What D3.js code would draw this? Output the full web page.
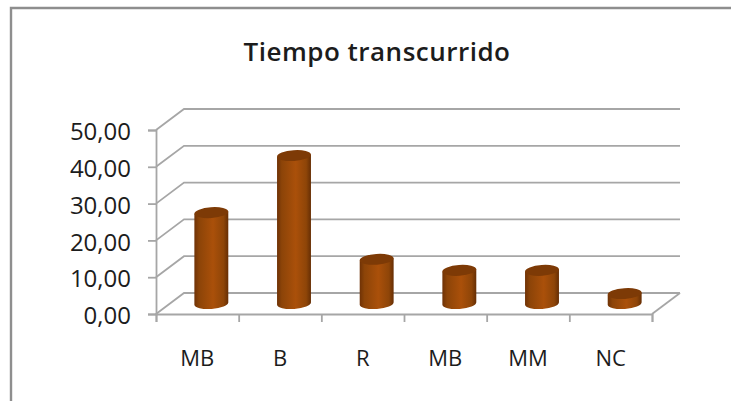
<!DOCTYPE html>
<html>
<head>
<meta charset="utf-8">
<script src="https://cdn.jsdelivr.net/npm/d3@7"></script>
<style>
  body { margin: 0; background: #fff; }
  text { font-family: "Open Sans", "Noto Sans", sans-serif; fill: #1c1c1c; }
</style>
</head>
<body>
<div id="chart"></div>
<script>
const categories = ["MB", "B", "R", "MB", "MM", "NC"];
const values = [24.7, 40.2, 12, 9, 9, 2.7];
const yTicks = [0, 10, 20, 30, 40, 50];
const title = "Tiempo transcurrido";

const w = 731, h = 401;
const depth = { x: 28, y: -21 }; // 3d offset of the back wall
const gridColor = "#a6a6a6";

const svg = d3.select("#chart").append("svg")
  .attr("width", w).attr("height", h)
  .style("display", "block");

// outer frame, only top and left show in the crop
svg.append("path")
  .attr("d", "M11,401V8H731")
  .attr("fill", "none")
  .attr("stroke", "#8e8e8e")
  .attr("stroke-width", 2.4);

svg.append("text")
  .attr("x", 377).attr("y", 61)
  .attr("text-anchor", "middle")
  .attr("font-size", 26)
  .attr("letter-spacing", 0.5)
  .attr("font-weight", 600)
  .text(title);

const y = d3.scaleLinear().domain([0, 50]).range([314, 130]);
const x = d3.scaleBand().domain(d3.range(categories.length)).range([156, 652]);
const xEdge = d3.scaleLinear().domain([0, categories.length]).range([156, 652]);

// walls and floor
const walls = svg.append("g")
  .attr("fill", "none")
  .attr("stroke", gridColor)
  .attr("stroke-width", 1.8);

walls.selectAll(".grid")
  .data(yTicks)
  .enter()
  .append("path")
  .attr("class", "grid")
  .attr("d", d => `M156,${y(d)}L${156 + depth.x},${y(d) + depth.y}H${652 + depth.x}`);

walls.append("path")
  .attr("d", `M652,314L${652 + depth.x},${314 + depth.y}`);

// axes
const yAxis = svg.append("g")
  .attr("transform", "translate(156,0)")
  .call(d3.axisLeft(y).tickValues(yTicks).tickSize(8).tickPadding(17)
    .tickFormat(d => d3.format(".2f")(d).replace(".", ",")));

const xTicks = svg.append("g")
  .attr("transform", "translate(0,314)")
  .call(d3.axisBottom(xEdge).tickValues(d3.range(categories.length + 1)).tickSize(8).tickFormat(""));

const xLabels = svg.append("g")
  .attr("transform", "translate(0,314)")
  .call(d3.axisBottom(x).tickSize(0).tickPadding(36).tickFormat(i => categories[i]));

xLabels.select(".domain").remove();
[yAxis, xTicks].forEach(a => {
  a.selectAll(".domain").attr("stroke", gridColor).attr("stroke-width", 1.8);
  a.selectAll("line").attr("stroke", gridColor).attr("stroke-width", 1.8);
});
yAxis.selectAll("text").attr("font-size", 24).attr("dy", "0.4em").attr("font-family", "'Open Sans'").attr("fill", "#1c1c1c");
xLabels.selectAll("text").attr("font-size", 22).attr("font-family", "'Open Sans'").attr("fill", "#1c1c1c");

// cylinder shading
const defs = svg.append("defs");
const grad = defs.append("linearGradient").attr("id", "body");
[[0, "#6f3206"], [0.14, "#8c4408"], [0.55, "#aa500a"], [0.86, "#8e4508"], [1, "#662e04"]]
  .forEach(s => grad.append("stop").attr("offset", s[0]).attr("stop-color", s[1]));

const rx = 17, ry = 5.4, tilt = -4;
const dx = rx * Math.cos(tilt * Math.PI / 180);
const dy = rx * Math.sin(tilt * Math.PI / 180);
const cx = i => x(i) + x.bandwidth() / 2 + depth.x / 2;
const cy = v => y(v) + depth.y / 2;

const bars = svg.selectAll(".bar")
  .data(values)
  .enter()
  .append("g")
  .attr("class", "bar");

bars.append("path")
  .attr("fill", "url(#body)")
  .attr("d", (d, i) => {
    const l = cx(i) - dx, r = cx(i) + dx;
    const top = cy(d), base = cy(0);
    return `M${l},${top - dy}L${l},${base - dy}A${rx},${ry} ${tilt} 0 0 ${r},${base + dy}L${r},${top + dy}Z`;
  });

bars.append("ellipse")
  .attr("rx", rx).attr("ry", ry)
  .attr("fill", "#7d3a06")
  .attr("transform", (d, i) => `translate(${cx(i)},${cy(d)}) rotate(${tilt})`);
</script>
</body>
</html>
